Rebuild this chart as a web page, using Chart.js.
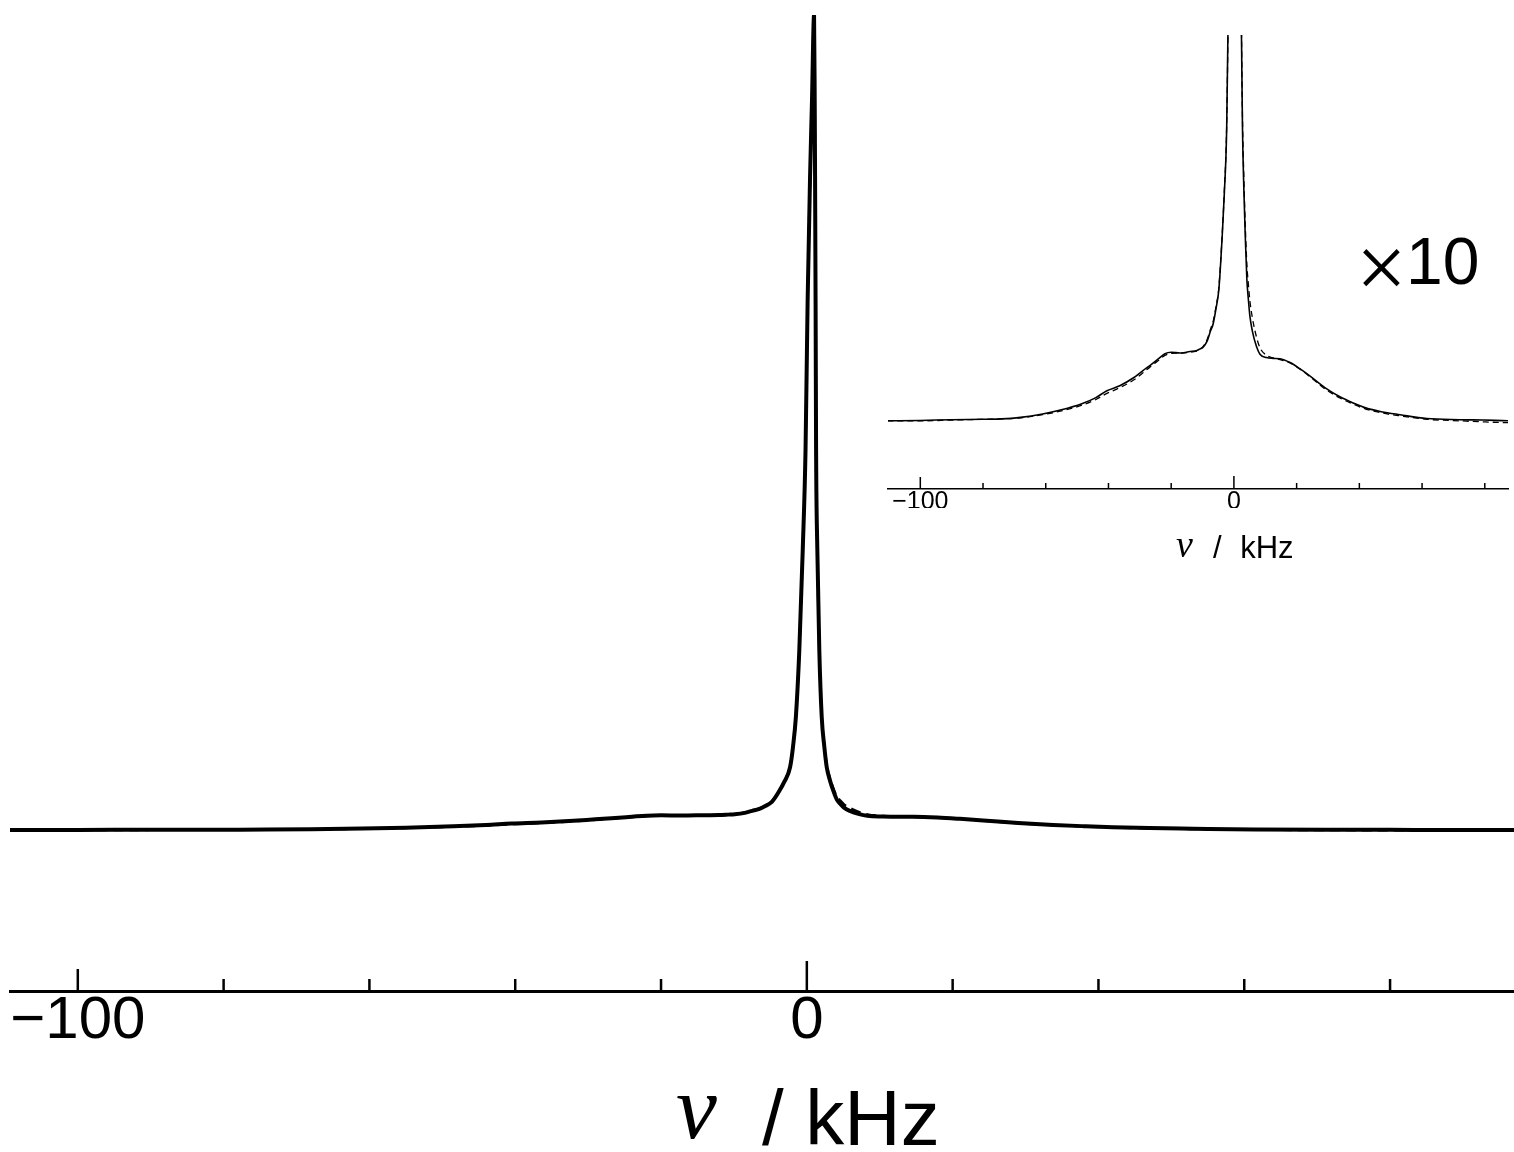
<!DOCTYPE html>
<html lang="en">
<head>
<meta charset="UTF-8" />
<title>Spectrum</title>
<script src="https://cdn.jsdelivr.net/npm/chart.js"></script>
<style>
    html, body { margin: 0; padding: 0; background: #fff; }
    body {
        width: 1514px; height: 1152px; position: relative; overflow: hidden;
        font-family: "Liberation Sans", Arial, sans-serif; color: #000;
    }
    #mainChart { position: absolute; left: 0; top: 0; }
    #insetChart { position: absolute; left: 880px; top: 0; }
    .txt { position: absolute; white-space: nowrap; line-height: 1; }
    .nu { font-family: "Liberation Serif", "DejaVu Serif", serif; font-style: italic; }
    .serif { font-family: "Liberation Serif", "DejaVu Serif", serif; }
</style>
</head>
<body>
<canvas id="mainChart" width="1514" height="1152"></canvas>
<canvas id="insetChart" width="634" height="520"></canvas>

<!-- main axis title -->
<div class="txt nu" style="left:676px; top:1061px; font-size:92px;">ν</div>
<div class="txt" style="left:762px; top:1079px; font-size:78px;">/ kHz</div>
<!-- inset axis title -->
<div class="txt nu" style="left:1176px; top:525px; font-size:38px;">ν</div>
<div class="txt" style="left:1213px; top:532px; font-size:31px; word-spacing:10px;">/ kHz</div>
<!-- vertical gain of the inset -->
<div class="txt serif" style="left:1356px; top:223px; font-size:90px;">×</div>
<div class="txt" style="left:1406px; top:228px; font-size:66px;">10</div>

<script>
// frequency offset (kHz) and intensities (peak = 100)
const freqKHz = [
    -110.5, -100, -90, -80, -74, -68, -61, -55, -48.5, -44,
    -40.5, -36.4, -32, -29, -26.8, -24, -22, -20, -17.2, -14,
    -12, -10.8, -9.9, -8.5, -7.5, -6.6, -5.7, -4.8, -3.7, -3.1,
    -2.3, -1.9, -1.5, -1.03, -0.56, -0.18, 0.11, 0.44, 0.71, 0.99,
    1.08, 1.13, 1.2, 1.27, 1.44, 1.71, 2.04, 2.4, 2.73, 3.2,
    3.6, 4.14, 4.6, 5.1, 5.9, 7.2, 8.3, 10.4, 12.5, 14.7,
    17.9, 21, 24.2, 29, 33.8, 38, 42, 47, 53, 61.5,
    72, 80, 88, 97
];
const expIntensity = [
    0.00, 0.01, 0.03, 0.04, 0.05, 0.09, 0.18, 0.29, 0.45, 0.61,
    0.79, 0.92, 1.13, 1.32, 1.45, 1.63, 1.76, 1.80, 1.78, 1.82,
    1.84, 1.89, 1.93, 2.10, 2.35, 2.55, 2.95, 3.45, 4.9, 5.9,
    7.7, 10.2, 13.9, 22.1, 34.4, 46.6, 65.0, 80.1, 89.6, 100,
    89.6, 80.1, 65.0, 46.6, 34.4, 22.1, 13.9, 10.2, 7.7, 6.0,
    4.9, 3.7, 3.2, 2.75, 2.35, 1.95, 1.75, 1.66, 1.64, 1.63,
    1.53, 1.37, 1.18, 0.87, 0.63, 0.47, 0.34, 0.24, 0.16, 0.06,
    0.03, 0.02, 0.00, 0.00
];
const simIntensity = [
    0.00, 0.00, 0.02, 0.04, 0.05, 0.08, 0.16, 0.26, 0.41, 0.56,
    0.72, 0.87, 1.07, 1.26, 1.41, 1.59, 1.72, 1.77, 1.78, 1.80,
    1.83, 1.88, 1.94, 2.14, 2.40, 2.62, 3.0, 3.5, 4.95, 5.95,
    7.8, 10.2, 13.9, 22.1, 34.4, 46.6, 65.0, 80.1, 89.6, 100,
    89.6, 80.1, 65.0, 46.6, 34.4, 22.1, 14.0, 10.4, 8.0, 6.3,
    5.2, 4.1, 3.6, 3.15, 2.7, 2.2, 1.92, 1.72, 1.65, 1.61,
    1.52, 1.36, 1.16, 0.84, 0.60, 0.44, 0.31, 0.21, 0.13, 0.04,
    0.00, -0.03, -0.05, -0.06
];
const tickLabels = { '-100': '−100', '0': '0' };
const insetGain = 10;

const toPoints = (vals, gain) => freqKHz.map((f, i) => ({ x: f, y: vals[i] * gain }));

// tick marks pointing up from the axis line
const upTicks = {
    id: 'upTicks',
    afterDraw(chart, args, opts) {
        const scale = chart.scales.x;
        const ctx = chart.ctx;
        ctx.save();
        ctx.strokeStyle = '#000';
        ctx.lineWidth = opts.width;
        scale.ticks.forEach(t => {
            const px = scale.getPixelForValue(t.value);
            let len = opts.minor;
            if (t.value === 0) len = opts.zero;
            else if (tickLabels[t.value]) len = opts.major;
            ctx.beginPath();
            ctx.moveTo(px, scale.top);
            ctx.lineTo(px, scale.top - len);
            ctx.stroke();
        });
        ctx.restore();
    }
};

function makeChart(id, cfg) {
    return new Chart(document.getElementById(id), {
        type: 'line',
        data: {
            datasets: [{
                label: 'experiment',
                data: toPoints(expIntensity, cfg.gain),
                borderColor: '#000',
                borderWidth: cfg.solidWidth,
                pointRadius: 0,
                cubicInterpolationMode: 'monotone',
                fill: false
            }, {
                label: 'simulation',
                data: toPoints(simIntensity, cfg.gain),
                borderColor: '#000',
                borderWidth: cfg.dashWidth,
                borderDash: cfg.dash,
                pointRadius: 0,
                cubicInterpolationMode: 'monotone',
                fill: false
            }]
        },
        options: {
            responsive: false,
            animation: false,
            layout: { padding: cfg.padding },
            plugins: {
                legend: { display: false },
                tooltip: { enabled: false },
                upTicks: cfg.ticks
            },
            scales: {
                x: {
                    type: 'linear',
                    min: cfg.xMin,
                    max: cfg.xMax,
                    grid: { display: false },
                    border: { display: true, color: '#000', width: cfg.axisWidth },
                    ticks: {
                        stepSize: 20,
                        includeBounds: false,
                        autoSkip: false,
                        maxRotation: 0,
                        padding: cfg.labelPad,
                        color: '#000',
                        font: { family: '"Liberation Sans", Arial, sans-serif', size: cfg.fontSize, lineHeight: 1 },
                        callback: v => tickLabels[v] ?? ''
                    }
                },
                y: { display: false, min: cfg.yMin, max: cfg.yMax }
            }
        },
        plugins: [upTicks]
    });
}

makeChart('mainChart', {
    gain: 1, solidWidth: 4, dashWidth: 2.5, dash: [10, 6],
    padding: { top: 15, left: 10, right: 0, bottom: 109 },
    ticks: { major: 22, zero: 30, minor: 12, width: 2.5 },
    xMin: -109.3, xMax: 97, yMin: -19.75, yMax: 100,
    axisWidth: 3, fontSize: 60, labelPad: -8
});

makeChart('insetChart', {
    gain: insetGain, solidWidth: 1.6, dashWidth: 1.3, dash: [6, 4],
    padding: { top: 35, left: 8, right: 6, bottom: 12 },
    ticks: { major: 12, zero: 13, minor: 6, width: 1.5 },
    xMin: -110.3, xMax: 87.4, yMin: -17.9, yMax: 101.3,
    axisWidth: 1.5, fontSize: 25, labelPad: -7
});
</script>
</body>
</html>
